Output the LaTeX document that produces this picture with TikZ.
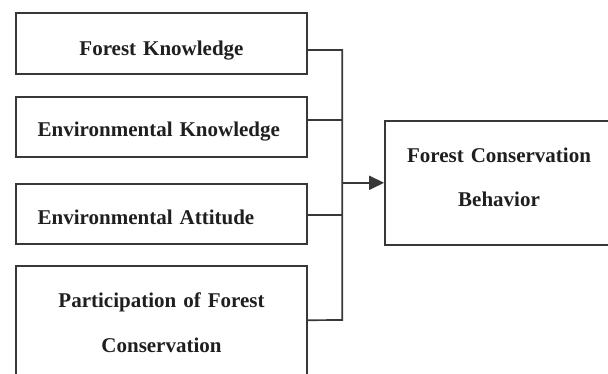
\documentclass[tikz,border=0pt]{standalone}
\usepackage{fontspec}
\setmainfont{Liberation Serif}
\usetikzlibrary{arrows.meta}
\tikzstyle{box}=[draw=black!78,line width=1.7pt,inner sep=0pt,text=black!88,font=\fontsize{21}{44.4}\selectfont\bfseries]
\tikzstyle{lft}=[box,minimum width=291.6pt,inner xsep=22pt,text width=247.6pt]
\tikzstyle{one}=[text height=20pt,text depth=0pt]
\tikzstyle{two}=[text height=0pt,text depth=41pt,align=center]
\tikzstyle{wire}=[black!78,line width=1.7pt]

\begin{document}
\begin{tikzpicture}[x=1pt,y=-1pt]
    \useasboundingbox (0,0) rectangle (608,373);
    \clip (0,0) rectangle (608,373);
    % predictors
    \node[lft,one,text height=24pt,align=center,minimum height=61pt] (fk) at (161.5,43.7) {Forest Knowledge};
    \node[lft,one,align=left,minimum height=60pt] (ek) at (161.5,126.7) {Environmental Knowledge};
    \node[lft,one,align=left,minimum height=60pt] (ea) at (161.5,214.2) {Environmental Attitude};
    \node[lft,two,minimum height=124.4pt] (pf) at (161.5,328.2) {Participation of Forest\\Conservation};
    % outcome
    \node[box,two,minimum width=228pt,text width=228pt,minimum height=124.3pt] (fcb) at (499,182.8) {Forest Conservation\\Behavior};
    % bus
    \coordinate (bb) at (342.3,320);
    \draw[wire] ([yshift=-6.3pt]fk.east) -| (bb) -- ([yshift=8pt]pf.east);
    \foreach \n/\s in {ek/6.7, ea/-0.8}
        \draw[wire] ([yshift=\s pt]\n.east) -- ([yshift=\s pt]\n.east -| bb);
    \draw[wire,-{Triangle[length=15pt,width=14pt]}] (fcb.west -| bb) -- (fcb.west);
\end{tikzpicture}
\end{document}
